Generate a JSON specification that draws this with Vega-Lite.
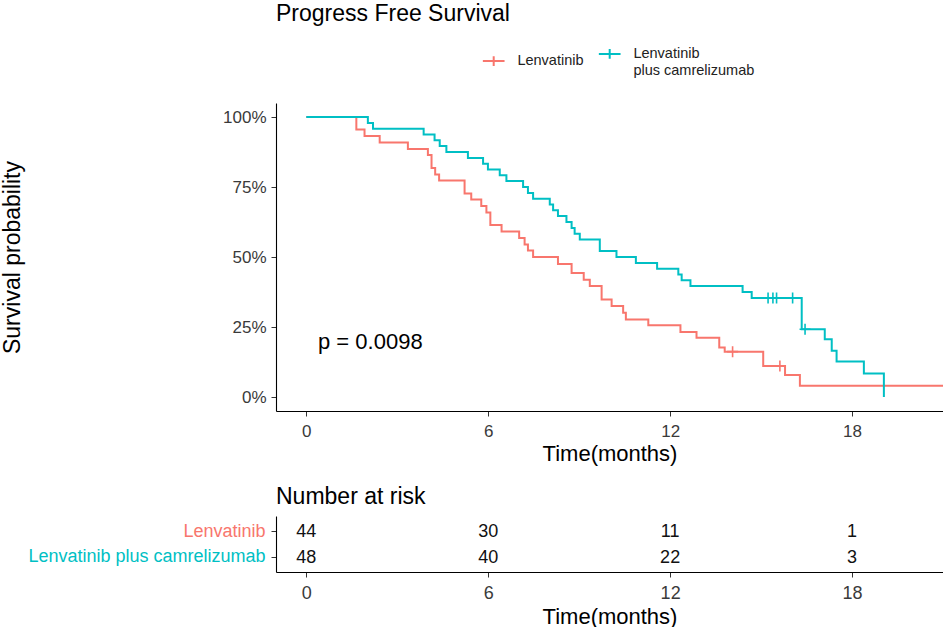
{
  "$schema": "https://vega.github.io/schema/vega-lite/v6.json",
  "padding": {"left": 1, "top": 3, "right": 0, "bottom": 0},
  "background": "white",
  "datasets": {
    "curves": [
      {"group": "Lenvatinib", "time": 0, "surv": 100},
      {"group": "Lenvatinib", "time": 1.65, "surv": 95.5},
      {"group": "Lenvatinib", "time": 1.92, "surv": 93.2},
      {"group": "Lenvatinib", "time": 2.42, "surv": 90.9},
      {"group": "Lenvatinib", "time": 3.35, "surv": 88.6},
      {"group": "Lenvatinib", "time": 4.01, "surv": 86.4},
      {"group": "Lenvatinib", "time": 4.13, "surv": 81.8},
      {"group": "Lenvatinib", "time": 4.25, "surv": 79.5},
      {"group": "Lenvatinib", "time": 4.38, "surv": 77.3},
      {"group": "Lenvatinib", "time": 5.22, "surv": 72.7},
      {"group": "Lenvatinib", "time": 5.44, "surv": 70.5},
      {"group": "Lenvatinib", "time": 5.77, "surv": 68.2},
      {"group": "Lenvatinib", "time": 5.94, "surv": 65.9},
      {"group": "Lenvatinib", "time": 6.07, "surv": 61.4},
      {"group": "Lenvatinib", "time": 6.44, "surv": 59.1},
      {"group": "Lenvatinib", "time": 7.02, "surv": 56.8},
      {"group": "Lenvatinib", "time": 7.2, "surv": 54.5},
      {"group": "Lenvatinib", "time": 7.31, "surv": 52.3},
      {"group": "Lenvatinib", "time": 7.48, "surv": 50.0},
      {"group": "Lenvatinib", "time": 8.3, "surv": 47.5},
      {"group": "Lenvatinib", "time": 8.75, "surv": 44.3},
      {"group": "Lenvatinib", "time": 9.15, "surv": 41.9},
      {"group": "Lenvatinib", "time": 9.35, "surv": 39.6},
      {"group": "Lenvatinib", "time": 9.74, "surv": 34.8},
      {"group": "Lenvatinib", "time": 10.07, "surv": 32.5},
      {"group": "Lenvatinib", "time": 10.45, "surv": 30.1},
      {"group": "Lenvatinib", "time": 10.54, "surv": 27.7},
      {"group": "Lenvatinib", "time": 11.28, "surv": 25.6},
      {"group": "Lenvatinib", "time": 12.34, "surv": 23.2},
      {"group": "Lenvatinib", "time": 12.87, "surv": 21.2},
      {"group": "Lenvatinib", "time": 13.62, "surv": 17.7},
      {"group": "Lenvatinib", "time": 13.8, "surv": 16.2},
      {"group": "Lenvatinib", "time": 15.07, "surv": 11.1},
      {"group": "Lenvatinib", "time": 15.79, "surv": 7.9},
      {"group": "Lenvatinib", "time": 16.28, "surv": 4.0},
      {"group": "Lenvatinib", "time": 21.3, "surv": 4.0},
      {"group": "Lenvatinib plus camrelizumab", "time": 0, "surv": 100},
      {"group": "Lenvatinib plus camrelizumab", "time": 2.03, "surv": 97.9},
      {"group": "Lenvatinib plus camrelizumab", "time": 2.2, "surv": 95.8},
      {"group": "Lenvatinib plus camrelizumab", "time": 3.87, "surv": 93.75},
      {"group": "Lenvatinib plus camrelizumab", "time": 4.23, "surv": 91.7},
      {"group": "Lenvatinib plus camrelizumab", "time": 4.4, "surv": 89.6},
      {"group": "Lenvatinib plus camrelizumab", "time": 4.62, "surv": 87.5},
      {"group": "Lenvatinib plus camrelizumab", "time": 5.33, "surv": 85.4},
      {"group": "Lenvatinib plus camrelizumab", "time": 5.83, "surv": 83.3},
      {"group": "Lenvatinib plus camrelizumab", "time": 5.99, "surv": 81.25},
      {"group": "Lenvatinib plus camrelizumab", "time": 6.38, "surv": 79.2},
      {"group": "Lenvatinib plus camrelizumab", "time": 6.6, "surv": 77.1},
      {"group": "Lenvatinib plus camrelizumab", "time": 7.15, "surv": 75.0},
      {"group": "Lenvatinib plus camrelizumab", "time": 7.31, "surv": 72.9},
      {"group": "Lenvatinib plus camrelizumab", "time": 7.48, "surv": 70.8},
      {"group": "Lenvatinib plus camrelizumab", "time": 8.03, "surv": 68.75},
      {"group": "Lenvatinib plus camrelizumab", "time": 8.14, "surv": 66.7},
      {"group": "Lenvatinib plus camrelizumab", "time": 8.3, "surv": 64.6},
      {"group": "Lenvatinib plus camrelizumab", "time": 8.58, "surv": 62.5},
      {"group": "Lenvatinib plus camrelizumab", "time": 8.75, "surv": 60.4},
      {"group": "Lenvatinib plus camrelizumab", "time": 8.85, "surv": 58.3},
      {"group": "Lenvatinib plus camrelizumab", "time": 9.02, "surv": 56.25},
      {"group": "Lenvatinib plus camrelizumab", "time": 9.68, "surv": 52.1},
      {"group": "Lenvatinib plus camrelizumab", "time": 10.23, "surv": 50.0},
      {"group": "Lenvatinib plus camrelizumab", "time": 10.87, "surv": 47.9},
      {"group": "Lenvatinib plus camrelizumab", "time": 11.57, "surv": 45.8},
      {"group": "Lenvatinib plus camrelizumab", "time": 12.27, "surv": 43.75},
      {"group": "Lenvatinib plus camrelizumab", "time": 12.38, "surv": 41.7},
      {"group": "Lenvatinib plus camrelizumab", "time": 12.67, "surv": 39.6},
      {"group": "Lenvatinib plus camrelizumab", "time": 14.39, "surv": 37.5},
      {"group": "Lenvatinib plus camrelizumab", "time": 14.69, "surv": 35.4},
      {"group": "Lenvatinib plus camrelizumab", "time": 16.34, "surv": 24.2},
      {"group": "Lenvatinib plus camrelizumab", "time": 17.1, "surv": 20.6},
      {"group": "Lenvatinib plus camrelizumab", "time": 17.33, "surv": 16.5},
      {"group": "Lenvatinib plus camrelizumab", "time": 17.49, "surv": 12.7},
      {"group": "Lenvatinib plus camrelizumab", "time": 18.39, "surv": 8.4},
      {"group": "Lenvatinib plus camrelizumab", "time": 19.05, "surv": 0}
    ],
    "censor": [
      {"group": "Lenvatinib", "time": 14.06, "surv": 16.2},
      {"group": "Lenvatinib", "time": 15.62, "surv": 11.1},
      {"group": "Lenvatinib plus camrelizumab", "time": 15.23, "surv": 35.4},
      {"group": "Lenvatinib plus camrelizumab", "time": 15.39, "surv": 35.4},
      {"group": "Lenvatinib plus camrelizumab", "time": 15.51, "surv": 35.4},
      {"group": "Lenvatinib plus camrelizumab", "time": 16.04, "surv": 35.4},
      {"group": "Lenvatinib plus camrelizumab", "time": 16.45, "surv": 24.2}
    ],
    "risk": [
      {"group": "Lenvatinib", "time": 0, "n": 44},
      {"group": "Lenvatinib", "time": 6, "n": 30},
      {"group": "Lenvatinib", "time": 12, "n": 11},
      {"group": "Lenvatinib", "time": 18, "n": 1},
      {"group": "Lenvatinib plus camrelizumab", "time": 0, "n": 48},
      {"group": "Lenvatinib plus camrelizumab", "time": 6, "n": 40},
      {"group": "Lenvatinib plus camrelizumab", "time": 12, "n": 22},
      {"group": "Lenvatinib plus camrelizumab", "time": 18, "n": 3}
    ]
  },
  "vconcat": [
    {
      "width": 667,
      "height": 308,
      "title": {"text": "Progress Free Survival", "fontSize": 23, "offset": 15.5},
      "layer": [
        {
          "data": {"name": "curves"},
          "mark": {"type": "line", "interpolate": "step-after", "strokeWidth": 2, "clip": true},
          "encoding": {
            "x": {"field": "time", "type": "quantitative",
              "scale": {"domain": [-1, 21], "nice": false, "zero": false},
              "axis": {"values": [0, 6, 12, 18], "title": "Time(months)", "labelFontSize": 17, "titleFontSize": 22, "titlePadding": 4.5}},
            "y": {"field": "surv", "type": "quantitative",
              "scale": {"domain": [-5, 105], "nice": false, "zero": false},
              "axis": {"values": [0, 25, 50, 75, 100], "labelExpr": "datum.value + '%'", "title": "Survival probability",
                "titleFontSize": 23, "labelFontSize": 17, "minExtent": 52, "maxExtent": 52, "titlePadding": 200}},
            "color": {"field": "group", "type": "nominal",
              "scale": {"domain": ["Lenvatinib", "Lenvatinib plus camrelizumab"], "range": ["#F8766D", "#00BFC4"]},
              "legend": {
                "orient": "none", "legendX": 205.7, "legendY": -61.5, "direction": "horizontal",
                "title": null, "padding": 0, "labelFontSize": 14.5, "labelColor": "#222222", "labelLimit": 0,
                "symbolType": "M-1,0H1M0,-0.45V0.45", "symbolSize": 471, "symbolStrokeWidth": 2,
                "symbolFillColor": "transparent", "labelOffset": 11.7, "columnPadding": 11,
                "labelExpr": "datum.label == 'Lenvatinib plus camrelizumab' ? ['Lenvatinib', 'plus camrelizumab'] : datum.label",
                "encode": {"labels": {"update": {"lineHeight": {"value": 16.6}}}}
              }}
          }
        },
        {
          "data": {"name": "censor"},
          "mark": {"type": "point", "shape": "M-1,0H1M0,-1V1", "filled": false, "size": 121, "strokeWidth": 1.6, "opacity": 1},
          "encoding": {
            "x": {"field": "time", "type": "quantitative"},
            "y": {"field": "surv", "type": "quantitative"},
            "color": {"field": "group", "type": "nominal"}
          }
        },
        {
          "data": {"values": [{}]},
          "mark": {"type": "text", "align": "left", "baseline": "middle", "fontSize": 22, "color": "#000000"},
          "encoding": {
            "x": {"datum": 0.386},
            "y": {"datum": 19.5},
            "text": {"value": "p = 0.0098"}
          }
        }
      ]
    },
    {
      "width": 667,
      "height": 56,
      "title": {"text": "Number at risk", "fontSize": 23, "offset": 7},
      "data": {"name": "risk"},
      "mark": {"type": "text", "fontSize": 18, "color": "#111111", "baseline": "middle", "align": "center", "dy": 1},
      "encoding": {
        "x": {"field": "time", "type": "quantitative",
          "scale": {"domain": [-1, 21], "nice": false, "zero": false},
          "axis": {"values": [0, 6, 12, 18], "title": "Time(months)", "labelFontSize": 18, "titleFontSize": 22, "titlePadding": 4}},
        "y": {"field": "group", "type": "nominal",
          "scale": {"type": "point", "padding": 0.6, "domain": ["Lenvatinib", "Lenvatinib plus camrelizumab"]},
          "axis": {"title": null, "labelFontSize": 18, "labelPadding": 6, "labelLimit": 0,
            "labelColor": {"condition": {"test": "datum.value == 'Lenvatinib'", "value": "#F8766D"}, "value": "#00BFC4"}}},
        "text": {"field": "n", "type": "quantitative"}
      }
    }
  ],
  "bounds": "flush",
  "spacing": 105,
  "resolve": {"legend": {"color": "independent"}, "scale": {"x": "independent", "y": "independent", "color": "independent"}},
  "config": {
    "font": "Liberation Sans",
    "view": {"stroke": null},
    "axis": {
      "grid": false, "domainColor": "#000000", "domainWidth": 1.1, "tickColor": "#333333", "tickSize": 5,
      "labelColor": "#3a3a3a", "labelPadding": 7, "titleColor": "#000000", "titleFontWeight": "normal", "labelFont": "Liberation Sans", "titleFont": "Liberation Sans"
    },
    "axisY": {"labelPadding": 5},
    "title": {"fontWeight": "normal", "anchor": "start", "frame": "group", "color": "#000000", "font": "Liberation Sans"},
    "legend": {"labelFont": "Liberation Sans"}
  }
}
